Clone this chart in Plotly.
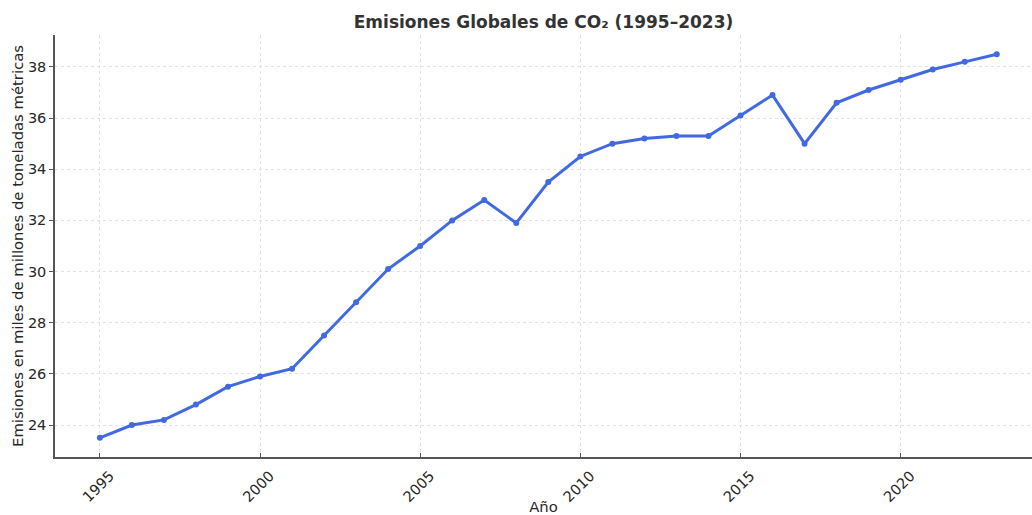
"""
Emisiones globales de CO2 — line chart.
"""
import plotly.graph_objects as go

years = list(range(1995, 2024))
emissions = [23.5, 24.0, 24.2, 24.8, 25.5, 25.9, 26.2, 27.5, 28.8, 30.1,
             31.0, 32.0, 32.8, 31.9, 33.5, 34.5, 35.0, 35.2, 35.3, 35.3,
             36.1, 36.9, 35.0, 36.6, 37.1, 37.5, 37.9, 38.2, 38.5]
x_ticks = [1995, 2000, 2005, 2010, 2015, 2020]
y_ticks = [24, 26, 28, 30, 32, 34, 36, 38]

FONT = 'DejaVu Sans, sans-serif'
LINE = '#4169E1'
TEXT = '#262626'

fig = go.Figure()
fig.add_trace(go.Scatter(
    x=years, y=emissions,
    mode='lines+markers',
    line=dict(color=LINE, width=3),
    marker=dict(color=LINE, size=6),
    showlegend=False,
))

fig.update_layout(
    width=1032, height=515,
    paper_bgcolor='white', plot_bgcolor='white',
    margin=dict(l=55, r=0, t=35, b=58, autoexpand=False),
    font=dict(family=FONT, size=14, color=TEXT),
    title=dict(text='<b>Emisiones Globales de CO₂ (1995–2023)</b>',
               x=0.5, xref='paper', xanchor='center',
               y=1 - 22 / 515, yref='container', yanchor='middle',
               font=dict(size=17, color='#333333')),
)

fig.update_xaxes(
    range=[1993.6, 2024.1],
    tickvals=x_ticks, tickangle=-45,
    ticks='inside', ticklen=4, tickcolor='#555555',
    ticklabelshift=10, ticklabelstandoff=3,
    showline=True, linecolor='#555555', linewidth=1.5,
    showgrid=True, gridcolor='#e2e2e2', griddash='dot', gridwidth=1,
    zeroline=False, automargin=False,
    title=dict(text='Año', standoff=3, font=dict(size=14.8)),
    tickfont=dict(size=14.5),
)
fig.update_yaxes(
    range=[22.75, 39.25],
    tickvals=y_ticks,
    ticks='outside', ticklen=4, tickcolor='#555555',
    showline=True, linecolor='#555555', linewidth=1.5,
    showgrid=True, gridcolor='#e2e2e2', griddash='dot', gridwidth=1,
    zeroline=False, automargin=False,
    title=dict(text='Emisiones en miles de millones de toneladas métricas',
               standoff=1, font=dict(size=14.8)),
    tickfont=dict(size=14.5),
)

# drop the browser's default page margin so the figure sits at (0, 0)
fig.write_html("out.html",
               config={'displayModeBar': False},
               post_script="document.body.style.margin='0';"
                           "document.body.style.overflow='hidden';")
